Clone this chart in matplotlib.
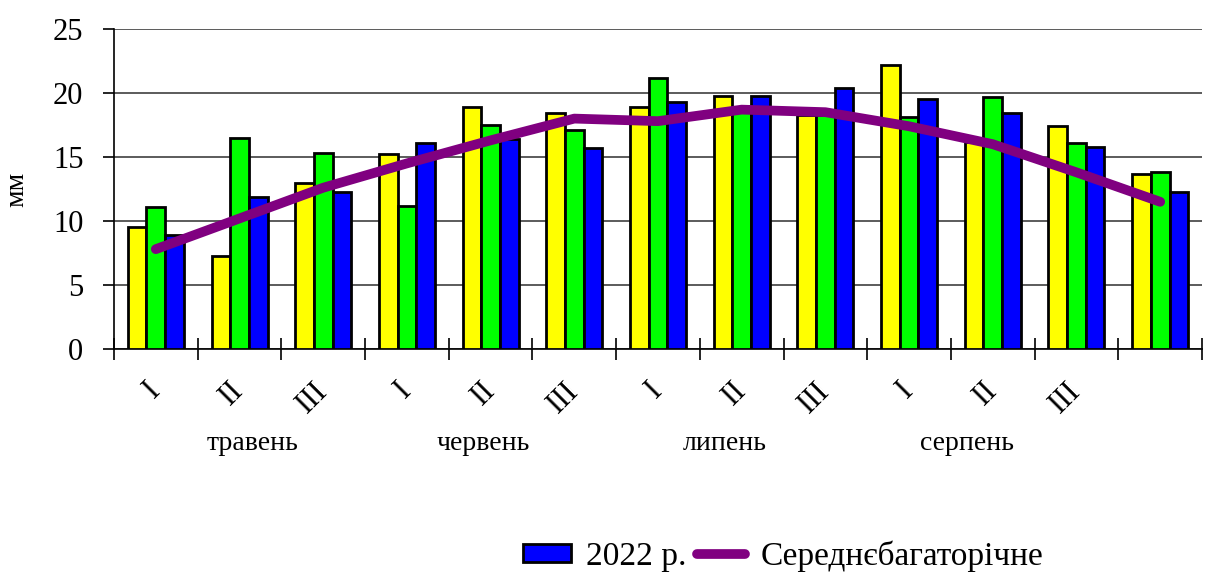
import matplotlib
matplotlib.use("Agg")
import matplotlib.pyplot as plt
import numpy as np
from matplotlib.lines import Line2D
from matplotlib.patches import Patch

plt.rcParams["font.family"] = ["Liberation Serif", "DejaVu Serif"]

# decades (I, II, III) of May-August, last group unlabeled
decade_labels = ["I", "II", "III"] * 4
month_labels = ["травень", "червень", "липень", "серпень"]

series_yellow = [9.5, 7.3, 13.0, 15.2, 18.9, 18.4, 18.9, 19.8, 18.3, 22.2, 16.2, 17.4, 13.7]
series_green = [11.1, 16.5, 15.3, 11.2, 17.5, 17.1, 21.2, 18.6, 18.3, 18.1, 19.7, 16.1, 13.8]
series_blue = [8.9, 11.9, 12.3, 16.1, 16.4, 15.7, 19.3, 19.8, 20.4, 19.5, 18.4, 15.8, 12.3]
long_term_mean = [7.8, 10.2, 12.6, 14.5, 16.3, 18.0, 17.8, 18.7, 18.5, 17.4, 16.0, 13.8, 11.5]

label_blue = "2022 р."
label_mean = "Середнєбагаторічне"

fig = plt.figure(figsize=(12.11, 5.75), dpi=100)
ax = fig.add_axes([0.0941, 0.393, 0.8985, 0.5566])

x = np.arange(len(series_yellow))
width = 0.223
bar_style = dict(width=width, edgecolor="black", linewidth=2.0, zorder=3)
ax.bar(x - width, series_yellow, color="#ffff00", **bar_style)
ax.bar(x, series_green, color="#00ff00", **bar_style)
ax.bar(x + width, series_blue, color="#0000ff", **bar_style)

ax.plot(x, long_term_mean, color="#800080", linewidth=7, solid_capstyle="round",
        solid_joinstyle="round", zorder=4)

ax.set_xlim(-0.5, len(x) - 0.5)
ax.set_ylim(0, 25)
ax.set_yticks(np.arange(0, 26, 5))
ax.yaxis.grid(True, color="#404040", linewidth=1.2, zorder=0)
ax.set_axisbelow(True)
ax.tick_params(axis="y", direction="out", length=8, width=1.2, labelsize=22, pad=14)

# major ticks at group boundaries, labels on minor ticks at group centers
ax.set_xticks(np.arange(-0.5, len(x), 1.0))
ax.set_xticklabels([])
ax.tick_params(axis="x", which="major", direction="inout", length=16.5, width=1.2)
ax.set_xticks(x[: len(decade_labels)], minor=True)
ax.set_xticklabels(decade_labels, minor=True, rotation=45, rotation_mode="anchor",
                   ha="right", va="center", fontsize=22)
ax.tick_params(axis="x", which="minor", length=0, pad=27)

for side in ["top", "right"]:
    ax.spines[side].set_visible(False)
for side in ["left", "bottom"]:
    ax.spines[side].set_linewidth(1.2)

ax.set_ylabel("мм", fontsize=20)
ax.yaxis.set_label_coords(-0.078, 0.5)

month_x = [1.16, 3.91, 6.8, 9.69]
for mx, name in zip(month_x, month_labels):
    ax.text(mx, -7.4, name, ha="center", va="center", fontsize=20)

handles = [
    Patch(facecolor="#0000ff", edgecolor="black", linewidth=2.0),
    Line2D([0], [0], color="#800080", linewidth=7, solid_capstyle="round"),
]
fig.legend(handles, [label_blue, label_mean], loc="center",
           bbox_to_anchor=(783 / 1211, 1 - 556 / 575), ncol=2, frameon=False,
           fontsize=24, handlelength=1.45, handleheight=0.45, handletextpad=0.45,
           columnspacing=0.3)

fig.savefig("out.png", dpi=100)
plt.close(fig)
